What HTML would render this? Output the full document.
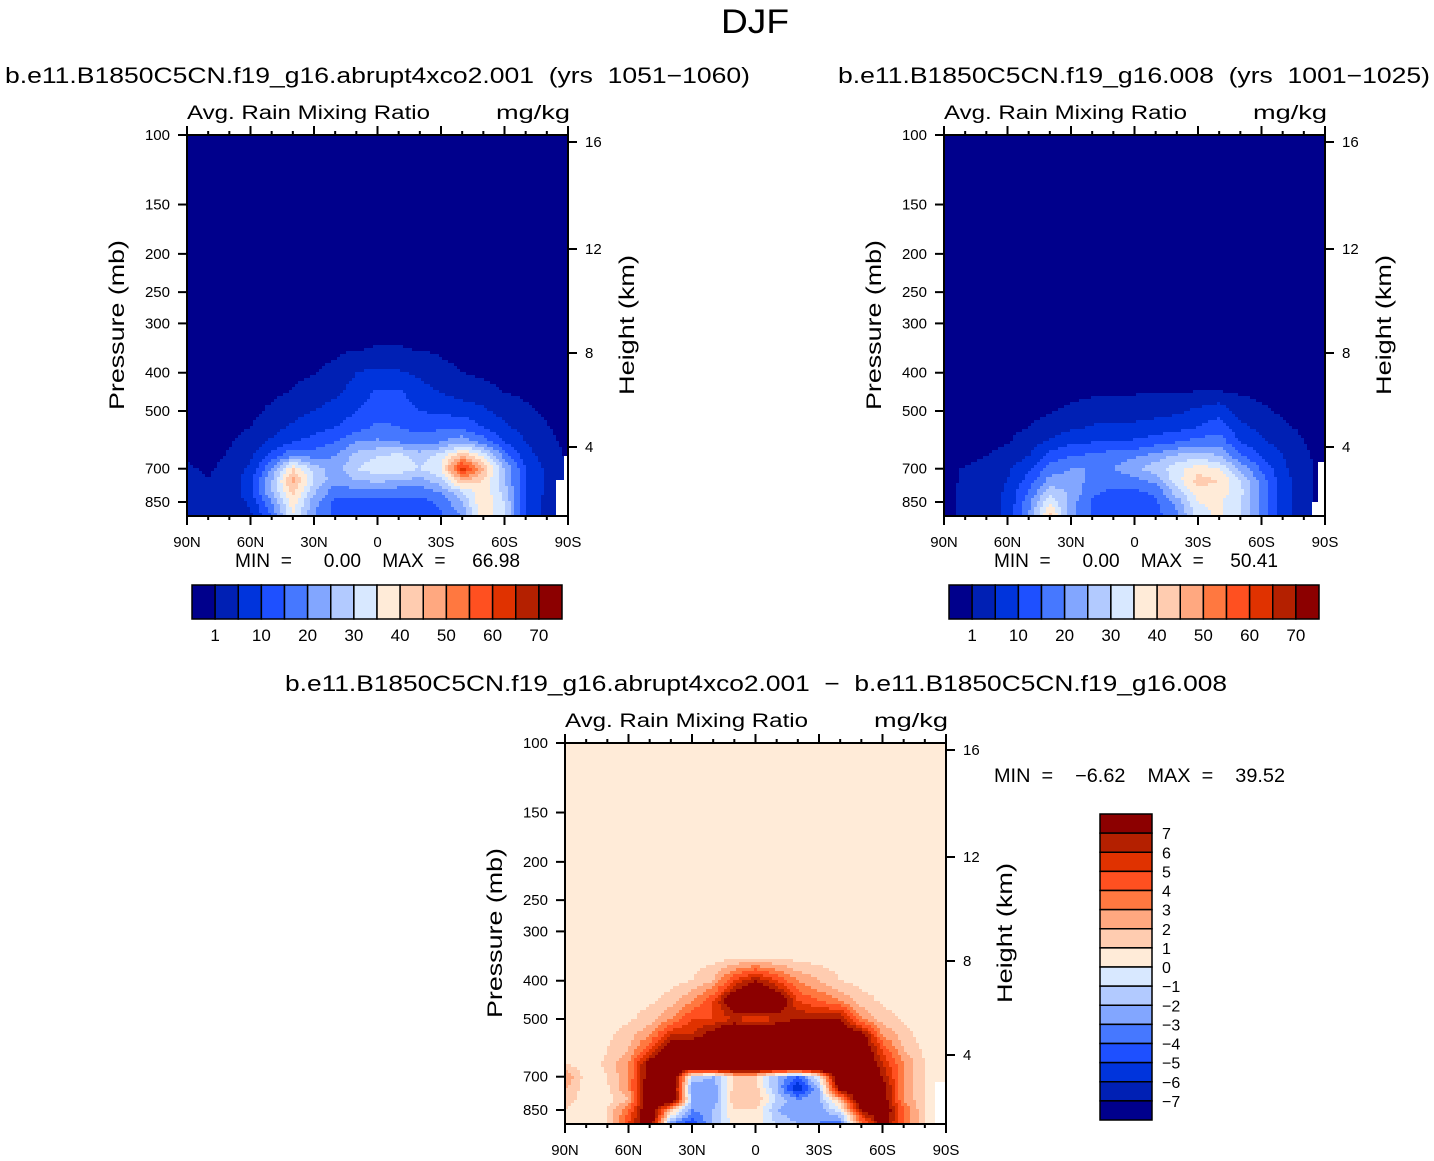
<!DOCTYPE html>
<html><head><meta charset="utf-8"><style>
html,body{margin:0;padding:0;background:#fff;}
svg{display:block;font-family:"Liberation Sans",sans-serif;}
</style></head><body>
<svg id="fig" width="1434" height="1161" viewBox="0 0 1434 1161" xmlns="http://www.w3.org/2000/svg">
<rect width="1434" height="1161" fill="#fff"/>
<text x="755" y="33" font-size="34" text-anchor="middle" textLength="68" lengthAdjust="spacingAndGlyphs">DJF</text>
<g id="root"></g>
</svg>
<script>
// ---- data ----
const lats=[90,80,70,60,50,40,30,20,10,0,-10,-20,-30,-40,-50,-60,-70,-80,-90];
const pLevels=[100,300,350,400,450,500,550,600,650,700,750,800,850,925];
const rain1=[
[0,0,0,0,0,0,0,0,0,0,0,0,0,0,0,0,0,0,0],
[0,0,0,0,0,0,0,0,0,0,0,0,0,0,0,0,0,0,0],
[0,0,0,0,0,0,0,0.3,0.9,1.2,1.2,0.9,0.5,0,0,0,0,0,0],
[0,0,0,0,0,0.3,0.8,2,5,6,5.5,4,2,1,0.5,0,0,0,0],
[0,0,0,0,0.5,1.2,2.5,4,7,11,11,7,5,3,2,1,0.5,0,0],
[0,0,0,0.3,1.5,3,5,7,10,13,13,10,9,8,6,3,1.5,0.5,0],
[0,0,0.3,1,3,6,8,10,13,16,15,13,14,14,10,6,3,1.2,0],
[0,0.2,0.8,2,6,10,12,15,20,21,20,18,20,24,18,10,5,2,0],
[0.8,0.5,1.2,4,12,20,18,20,27,30,32,28,32,45,35,18,7,3,0.5],
[1.2,0.8,1.5,6,20,40,28,22,30,33,33,30,35,64,45,25,10,4,0.5],
[1.5,1,2,8,25,47,30,22,25,26,25,23,28,45,40,25,10,4,1],
[1.5,1,2,8,25,42,26,17,18,18,17,17,21,30,38,28,10,4,1],
[1,1,2,6,20,38,22,14,14,14,13,13,16,25,40,30,10,3,1],
[1,1,1.5,4,15,35,20,13,13,13,13,13,14,20,40,30,10,3,1]];
const rain2=[
[0,0,0,0,0,0,0,0,0,0,0,0,0,0,0,0,0,0,0],
[0,0,0,0,0,0,0,0,0,0,0,0,0,0,0,0,0,0,0],
[0,0,0,0,0,0,0,0,0,0,0,0,0,0,0,0,0,0,0],
[0,0,0,0,0,0,0,0,0,0,0,0,0,0,0,0,0,0,0],
[0,0,0,0,0,0,0.3,0.5,0.7,0.8,0.9,1,1.1,1.2,0.7,0.3,0,0,0],
[0,0,0,0,0.3,0.8,1.5,2.5,3,3,3.5,4,6,8,3,1.5,0.5,0,0],
[0,0,0,0.3,1,2,4,5.5,6,6,7,8,10,13,6,4,1.5,0.5,0],
[0,0,0.3,0.8,2.5,6,9,10,10,11,13,15,17,18,10,6,3,1,0],
[0,0.3,1,2,5,12,15,16,18,19,22,26,28,25,16,10,5,1.5,0],
[0.5,1.2,2,4,9,17,20,20,20,24,28,33,38,35,24,14,6,2,0],
[0.5,1.2,2,5,12,22,22,19,17,18,22,33,42,40,30,18,7,2,0],
[0.5,1.5,2,6,15,28,24,16,14,14,16,28,38,38,32,18,7,2,0],
[0.5,1.5,2,6,18,35,22,14,13,13,14,22,35,36,30,18,7,2,0],
[0.5,1.5,2,6,20,42,22,14,13,13,13,18,33,36,30,18,7,2,0]];
const diff=[
[.5,.5,.5,.5,.5,.5,.5,.5,.5,.5,.5,.5,.5,.5,.5,.5,.5,.5,.5],
[.5,.5,.5,.5,.5,.5,.5,.5,.5,.5,.5,.5,.5,.5,.5,.5,.5,.5,.5],
[.5,.5,.5,.5,.5,.5,.5,.6,.8,.9,.8,.6,.5,.5,.5,.5,.5,.5,.5],
[.5,.5,.5,.5,.5,.6,1,2,5,7,5,3,2,1,.6,.5,.5,.5,.5],
[.5,.5,.5,.5,.8,1.5,3,5,9,10,9,5,4,3,1.5,.8,.5,.5,.5],
[.5,.5,.5,.8,1.5,3,5,5,6,5,6,7,7,7,3,1.5,.8,.5,.5],
[.5,.5,.8,1.5,3,6,6,8,10,10,10,10,9,9,8,3,1.5,.5,.5],
[.5,.5,1,2,5,9,10,12,12,12,12,12,12,10,9,5,2,.8,.5],
[1,.5,1.2,3,8,10,12,14,14,14,14,14,14,12,10,6,3,1,.5],
[3,.5,1,3,8,10,-1,-2,1,1,-2,-4,0,10,10,7,3,1,.5],
[2,.5,.8,3,9,10,-3,-3,1.5,1.5,-2,-6,-2,8,10,8,3,1,.5],
[1.5,.5,.5,2,9,10,-2,-3,2,2,-1,-3,-2,2,9,8,3,1,.5],
[1,.5,1,4,9,2,-3,-2,1,1,-2,-3,-3,0,7,9,4,1,.5],
[.5,.5,.8,5,9,-3,-5,-2,.5,.5,-1,-2,-3,-4,3,8,4,1,.5]];
const levelsRain=[1,5,10,15,20,25,30,35,40,45,50,55,60,65,70];
const levelsDiff=[-7,-6,-5,-4,-3,-2,-1,0,1,2,3,4,5,6,7];
const rainTickLabels=["1","10","20","30","40","50","60","70"];
const diffTickLabels=["7","6","5","4","3","2","1","0","\u22121","\u22122","\u22123","\u22124","\u22125","\u22126","\u22127"];
const pTicks=[100,150,200,250,300,400,500,700,850];
const latTicks=[90,60,30,0,-30,-60,-90];
const latTickLabels=["90N","60N","30N","0","30S","60S","90S"];
const hTicks=[4,8,12,16];
const colors=["#00008c","#0020b4","#0034dc","#1e50ff","#4678ff","#82a6ff","#b2caff","#d8e8ff","#ffebd8","#ffccb0","#ffa880","#ff7840","#ff5020","#e03200","#b42000","#8c0000"];

// ---- helpers ----
const NS="http://www.w3.org/2000/svg";
const root=document.getElementById('root');
function mk(tag,attrs,parent){const e=document.createElementNS(NS,tag);for(const k in attrs)e.setAttribute(k,attrs[k]);(parent||root).appendChild(e);return e;}
const W=381,H=381;
function xOfLat(lat){return (90-lat)/180*W;}
function yOfP(p){return 367*Math.log(p/100)/Math.log(8.5);}
function pOfY(y){return 100*Math.exp(y/367*Math.log(8.5));}
function yOfH(h){return {4:312,8:218,12:114,16:7}[h];}
function colorIdx(v,levels){let i=0;while(i<levels.length&&v>=levels[i])i++;return i;}
function sample(data,x,y){
  const p=pOfY(y);const lp=Math.log(Math.min(Math.max(p,100),925));
  let r=0;while(r<pLevels.length-2&&Math.log(pLevels[r+1])<lp)r++;
  const t=Math.min(1,Math.max(0,(lp-Math.log(pLevels[r]))/(Math.log(pLevels[r+1])-Math.log(pLevels[r]))));
  const u=Math.min(17.9999,Math.max(0,x/W*18));const c=Math.floor(u);const s=u-c;
  const a=data[r][c]*(1-s)+data[r][c+1]*s;const b=data[r+1][c]*(1-s)+data[r+1][c+1]*s;
  return a*(1-t)+b*t;
}
function drawField(g,data,levels){
  const N=127,cw=W/N;
  for(let r=0;r<N;r++){
    const y=(r+0.5)*cw;let start=0;let prev=-1;
    for(let c=0;c<=N;c++){
      const ci=c<N?colorIdx(sample(data,(c+0.5)*cw,y),levels):-2;
      if(ci!==prev){
        if(prev>=0){const e=mk('rect',{x:(start*cw).toFixed(2),y:(r*cw).toFixed(2),width:((c-start)*cw+0.6).toFixed(2),height:(cw+0.6).toFixed(2),fill:colors[prev]},g);
          
          }
        start=c;prev=ci;
      }
    }
  }
}
function txt(parent,x,y,s,size,anchor,len,name){
  const e=mk('text',{x:x,y:y,'font-size':size,'text-anchor':anchor||'start'},parent);
  if(len){e.setAttribute('textLength',len);e.setAttribute('lengthAdjust','spacingAndGlyphs');}
  e.style.whiteSpace='pre';
  e.textContent=s;
  
  
  return e;
}
function panel(ox,oy,data,levels,name,title,titleX,titleLen,whiteRects){
  const g=mk('g',{transform:`translate(${ox},${oy})`});
  
  
  const field=mk('g',{},g);
  
  
  drawField(field,data,levels);
  (whiteRects||[]).forEach(w=>{const e=mk('rect',{x:w[0],y:w[1],width:w[2],height:w[3],fill:'#fff'},field);
    
    });
  const fr=mk('rect',{x:0,y:0,width:W,height:H,fill:'none',stroke:'#000','stroke-width':2},g);
  
  
  for(let lat=90;lat>=-90;lat-=10){
    const x=xOfLat(lat);const major=lat%30===0;const L=major?9:4;
    mk('line',{x1:x,y1:0,x2:x,y2:-L,stroke:'#000','stroke-width':2},g);
    mk('line',{x1:x,y1:H,x2:x,y2:H+L,stroke:'#000','stroke-width':2},g);
  }
  latTicks.forEach((lat,i)=>txt(g,xOfLat(lat),H+31,latTickLabels[i],15,'middle',null,'x-tick-label'));
  pTicks.forEach(p=>{const y=yOfP(p);mk('line',{x1:0,y1:y,x2:-9,y2:y,stroke:'#000','stroke-width':2},g);
    txt(g,-17,y+5,String(p),15,'end',null,'y-tick-label');});
  hTicks.forEach(h=>{const y=yOfH(h);mk('line',{x1:W,y1:y,x2:W+9,y2:y,stroke:'#000','stroke-width':2},g);
    txt(g,W+17,y+5,String(h),15,'start',null,'height-tick-label');});
  const yt=txt(g,0,0,'Pressure (mb)',21,'middle',170,'y-axis-title');yt.setAttribute('transform',`translate(-63,${190}) rotate(-90)`);
  const ht=txt(g,0,0,'Height (km)',21,'middle',140,'height-axis-title');ht.setAttribute('transform',`translate(${W+66},${190}) rotate(-90)`);
  txt(g,0,-16,'Avg. Rain Mixing Ratio',19,'start',243,'field-name');
  txt(g,W+2,-16,'mg/kg',19,'end',74,'units-label');
  if(title)txt(root,titleX,oy-52,title,22,'start',titleLen,'panel-title');
  return g;
}
function hColorbar(x0,y0,name){
  const g=mk('g',{});
  const bw=370/16;
  colors.forEach((c,i)=>{const e=mk('rect',{x:x0+i*bw,y:y0,width:bw,height:34,fill:c,stroke:'#000','stroke-width':1.5},g);
    });
  rainTickLabels.forEach((s,k)=>txt(g,x0+bw*(1+2*k),y0+56,s,17,'middle',null,'colorbar-label'));
}
panel(187,135,rain1,levelsRain,'panel-abrupt4xco2','b.e11.B1850C5CN.f19_g16.abrupt4xco2.001  (yrs  1051\u22121060)',5,745,[[369,345,12,36],[377,321,4,60]]);
panel(944,135,rain2,levelsRain,'panel-control','b.e11.B1850C5CN.f19_g16.008  (yrs  1001\u22121025)',838,592,[[368,367,13,14],[374,327,7,54]]);
panel(565,743,diff,levelsDiff,'panel-difference','b.e11.B1850C5CN.f19_g16.abrupt4xco2.001  \u2212  b.e11.B1850C5CN.f19_g16.008',285,942,[[370,339,11,42]]);
hColorbar(192,585,'colorbar-abrupt4xco2');
hColorbar(949,585,'colorbar-control');
txt(root,235,567,'MIN  =      0.00    MAX  =     66.98',19,'start',285,'min-max-abrupt4xco2');
txt(root,994,567,'MIN  =      0.00    MAX  =     50.41',19,'start',284,'min-max-control');
txt(root,994,782,'MIN  =    \u22126.62    MAX  =    39.52',19,'start',291,'min-max-difference');
(function(){
  const g=mk('g',{});
  const bh=306/16;
  for(let i=0;i<16;i++){const e=mk('rect',{x:1100,y:814+i*bh,width:52,height:bh,fill:colors[15-i],stroke:'#000','stroke-width':1.5},g);
    }
  diffTickLabels.forEach((s,k)=>txt(g,1162,814+bh*(k+1)+6,s,16,'start',null,'colorbar-label'));
})();
</script>
</body></html>
